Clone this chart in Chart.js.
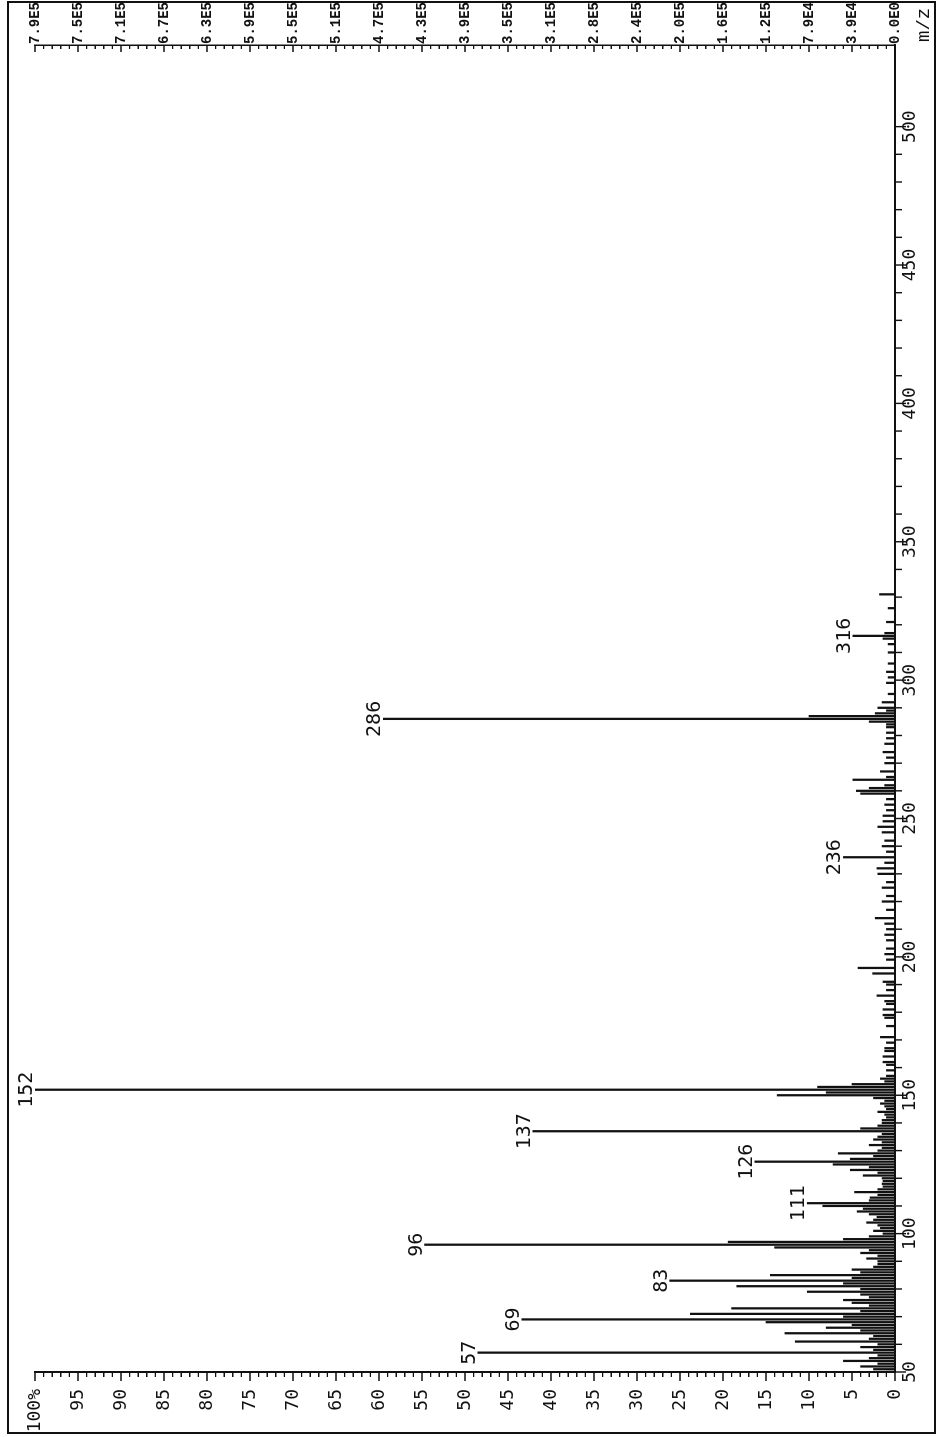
<!DOCTYPE html>
<html><head><meta charset="utf-8">
<script src="https://cdn.jsdelivr.net/npm/chart.js@4.4.1/dist/chart.umd.min.js"></script>
<style>
html,body{margin:0;padding:0;background:#fff;overflow:hidden;width:940px;height:1437px;}
#wrap{position:absolute;left:0;top:0;width:1437px;height:940px;transform-origin:0 0;transform:translate(0px,1437px) rotate(-90deg);background:#fff;}
canvas{display:block;}
</style></head><body>
<div id="wrap"><canvas id="c" width="1437" height="940"></canvas></div>
<script>
// m/z values and relative intensities (%)
const mzValues = [
 50,51,52,53,54,55,56,57,58,59,60,61,62,63,64,65,66,67,68,69,70,71,72,73,74,75,76,77,78,79,
 80,81,82,83,84,85,86,87,88,89,90,91,92,93,94,95,96,97,98,99,100,101,102,103,104,105,106,107,108,109,
 110,111,112,113,114,115,116,117,118,119,120,121,122,123,124,125,126,127,128,129,130,131,132,133,134,135,136,137,138,139,
 140,141,142,143,144,145,146,147,148,149,150,151,152,153,154,155,156,157,159,161,162,164,166,167,169,171,175,178,179,181,
 183,184,186,188,190,191,194,196,199,201,203,206,208,210,212,214,217,220,222,225,227,230,232,234,236,238,240,242,245,247,
 249,251,253,255,257,259,260,261,262,264,265,267,270,272,274,277,279,281,283,284,285,286,287,288,289,290,292,295,299,301,
 303,306,310,313,315,316,317,321,326,331
];
const intensityValues = [
 1.0,2.5,4.0,2.0,6.0,3.0,2.0,48.5,2.5,4.0,2.0,11.6,3.0,2.5,12.8,4.0,8.0,5.0,15.0,43.4,6.0,23.8,4.0,19.0,3.0,5.0,6.0,3.0,4.0,10.2,
 4.0,18.4,6.0,26.2,5.0,14.5,4.0,5.0,2.5,2.0,2.0,3.3,2.0,4.0,3.0,14.0,54.7,19.4,6.0,3.0,1.4,2.5,1.7,2.0,3.3,2.5,2.1,3.0,4.4,3.7,
 8.4,10.2,3.0,2.9,2.0,4.7,2.0,1.4,1.5,1.4,1.5,3.7,2.0,5.2,3.0,7.2,16.3,5.2,2.5,6.6,2.0,1.5,3.0,1.5,2.5,2.0,1.5,42.1,4.0,2.0,
 1.5,1.5,1.0,1.2,2.0,1.0,1.2,1.7,1.2,2.5,13.7,8.0,100,9.0,5.0,1.2,1.7,1.0,1.0,1.0,1.4,1.4,1.2,1.2,1.0,1.7,1.0,1.2,1.4,1.4,
 1.0,1.2,2.1,1.0,1.0,1.4,2.6,4.3,1.0,1.2,1.0,1.0,1.2,1.0,1.2,2.3,1.0,1.5,1.0,1.5,1.0,2.0,2.1,1.2,6.0,1.0,1.5,1.2,1.5,2.0,
 1.4,1.4,1.0,1.2,1.0,4.0,4.5,3.0,1.2,4.9,1.0,1.7,1.2,1.0,1.4,1.2,1.0,1.0,1.0,1.0,3.0,59.5,10.0,2.3,1.0,2.0,1.5,0.8,1.0,0.8,
 1.0,0.8,0.8,0.8,1.4,4.9,1.2,1.0,0.8,1.8
];
const labeledPeaks = [57,69,83,96,111,126,137,152,236,286,316];
const mzTickLabels = [50,100,150,200,250,300,350,400,450,500];
const percentTickLabels = ['100%','95','90','85','80','75','70','65','60','55','50','45','40','35','30','25','20','15','10','5','0'];
const abundanceTickLabels = ['7.9E5','7.5E5','7.1E5','6.7E5','6.3E5','5.9E5','5.5E5','5.1E5','4.7E5','4.3E5','3.9E5','3.5E5','3.1E5','2.8E5','2.4E5','2.0E5','1.6E5','1.2E5','7.9E4','3.9E4','0.0E0'];

const INK = '#111';
const MONO = '"DejaVu Sans Mono", monospace';
const COURIER = '"Liberation Mono", monospace';

const decor = {
  id: 'decor',
  beforeDraw(chart) {
    const ctx = chart.ctx;
    ctx.save();
    ctx.fillStyle = '#fff';
    ctx.fillRect(0, 0, chart.width, chart.height);
    ctx.restore();
  },
  afterDraw(chart) {
    const ctx = chart.ctx, a = chart.chartArea;
    const x = chart.scales.x, y = chart.scales.y;
    ctx.save();
    ctx.strokeStyle = INK;
    ctx.lineWidth = 1.4;
    ctx.beginPath();
    // m/z ticks (outward)
    for (let v = 50; v <= 500; v += 10) {
      const p = x.getPixelForValue(v);
      const len = (v % 50 === 0) ? 11 : 7;
      ctx.moveTo(p, a.bottom); ctx.lineTo(p, a.bottom + len);
    }
    // percent ticks (outward)
    for (let v = 0; v <= 100; v += 1) {
      const p = y.getPixelForValue(v);
      const len = (v % 5 === 0) ? 9 : 5;
      ctx.moveTo(a.left, p); ctx.lineTo(a.left - len, p);
    }
    // abundance ticks (inward)
    for (let v = 0; v <= 100; v += 1) {
      const p = y.getPixelForValue(v);
      const len = (v % 5 === 0) ? 7 : 4;
      ctx.moveTo(a.right, p); ctx.lineTo(a.right - len, p);
    }
    ctx.stroke();
    // outer frame
    ctx.lineWidth = 2;
    ctx.strokeRect(4, 8, 1431, 927);
    // axis title
    ctx.fillStyle = INK;
    ctx.font = '19px ' + COURIER;
    ctx.textAlign = 'left';
    ctx.textBaseline = 'middle';
    ctx.fillText('m/z', a.right + 3, a.bottom + 29);
    ctx.restore();
  },
  afterDatasetsDraw(chart) {
    const ctx = chart.ctx;
    const x = chart.scales.x, y = chart.scales.y;
    ctx.save();
    ctx.fillStyle = INK;
    ctx.font = '20px ' + MONO;
    ctx.textAlign = 'center';
    ctx.textBaseline = 'alphabetic';
    labeledPeaks.forEach(m => {
      const i = mzValues.indexOf(m);
      ctx.fillText(String(m), x.getPixelForValue(m), y.getPixelForValue(intensityValues[i]) - 3);
    });
    ctx.restore();
  }
};

new Chart(document.getElementById('c'), {
  type: 'bar',
  data: {
    datasets: [{
      data: mzValues.map((m, i) => ({ x: m, y: intensityValues[i] })),
      backgroundColor: INK,
      borderWidth: 0,
      barThickness: 1.6,
      yAxisID: 'y'
    }]
  },
  options: {
    responsive: false,
    animation: false,
    devicePixelRatio: 1,
    layout: { padding: { top: 35, left: 0, right: 0, bottom: 0 } },
    plugins: { legend: { display: false }, tooltip: { enabled: false } },
    scales: {
      x: {
        type: 'linear', min: 50, max: 529.5, offset: false,
        grid: { display: false, drawTicks: false },
        border: { display: true, color: INK, width: 2 },
        afterFit: s => { s.height = 45; },
        ticks: {
          stepSize: 50, includeBounds: false, autoSkip: false, maxRotation: 0,
          padding: 5, color: INK, font: { family: MONO, size: 18 },
          callback: v => mzTickLabels.includes(v) ? String(v) : ''
        }
      },
      y: {
        type: 'linear', position: 'left', min: 0, max: 100,
        grid: { display: false, drawTicks: false },
        border: { display: true, color: INK, width: 2 },
        afterFit: s => { s.width = 65; },
        ticks: {
          stepSize: 5, autoSkip: false, padding: 17, color: INK,
          font: { family: MONO, size: 18 },
          callback: v => percentTickLabels[Math.round((100 - v) / 5)]
        }
      },
      y2: {
        type: 'linear', axis: 'y', position: 'right', min: 0, max: 100,
        grid: { display: false, drawTicks: false },
        border: { display: true, color: INK, width: 1.5 },
        afterFit: s => { s.width = 45; },
        ticks: {
          stepSize: 5, autoSkip: false, padding: 1, color: INK,
          font: { family: COURIER, size: 14, weight: 'bold' },
          callback: v => abundanceTickLabels[Math.round((100 - v) / 5)]
        }
      }
    }
  },
  plugins: [decor]
});
</script>
</body></html>
